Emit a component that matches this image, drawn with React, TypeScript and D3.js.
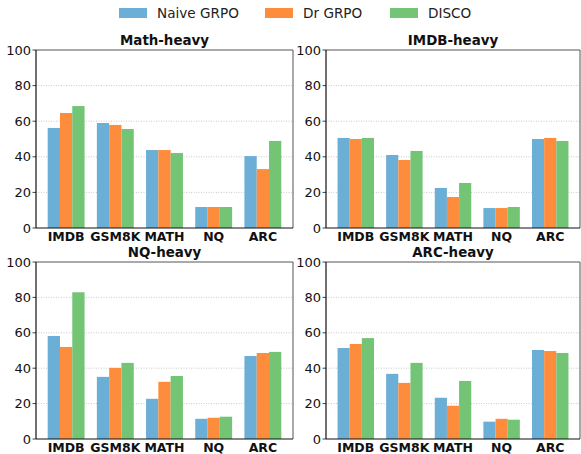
import React, { useEffect, useRef } from 'react';
import * as d3 from 'd3';

// categories / series
const categories = ['IMDB', 'GSM8K', 'MATH', 'NQ', 'ARC'];
const methods = ['Naive GRPO', 'Dr GRPO', 'DISCO'];
const colors = ['#6baed6', '#fd8d3c', '#74c476'];
const yTicks = [0, 20, 40, 60, 80, 100];

// values, one array per method per panel
const mathNaive = [56.2, 59.0, 43.8, 11.8, 40.4];
const mathDr = [64.6, 57.9, 43.8, 11.8, 33.1];
const mathDisco = [68.5, 55.6, 42.1, 11.8, 48.9];

const imdbNaive = [50.6, 41.0, 22.5, 11.2, 50.0];
const imdbDr = [50.0, 38.2, 17.4, 11.2, 50.6];
const imdbDisco = [50.6, 43.3, 25.3, 11.8, 48.9];

const nqNaive = [58.2, 35.1, 22.7, 11.4, 46.9];
const nqDr = [52.0, 40.2, 32.3, 12.0, 48.6];
const nqDisco = [82.9, 43.0, 35.6, 12.6, 49.2];

const arcNaive = [51.4, 36.8, 23.3, 9.8, 50.3];
const arcDr = [53.7, 31.7, 18.8, 11.4, 49.7];
const arcDisco = [57.0, 43.0, 32.8, 10.9, 48.6];

const panels = [
    { title: 'Math-heavy', series: [mathNaive, mathDr, mathDisco], x0: 36, x1: 293, y0: 50, y1: 228 },
    { title: 'IMDB-heavy', series: [imdbNaive, imdbDr, imdbDisco], x0: 326, x1: 580, y0: 50, y1: 228 },
    { title: 'NQ-heavy', series: [nqNaive, nqDr, nqDisco], x0: 36, x1: 293, y0: 262, y1: 439 },
    { title: 'ARC-heavy', series: [arcNaive, arcDr, arcDisco], x0: 326, x1: 580, y0: 262, y1: 439 },
];

const W = 581;
const H = 454;
const FONT = 'DejaVu Sans, sans-serif';
const barW = 0.25;

const App = () => {
    const svgRef = useRef<SVGSVGElement>(null);

    useEffect(() => {
        if (!svgRef.current) return;
        const svg = d3.select(svgRef.current);
        svg.selectAll('*').remove();

        const half = (barW * methods.length) / 2;
        const span = categories.length - 1 + 2 * half;
        const margin = span * 0.05;

        panels.forEach(p => {
            const x = d3.scaleLinear()
                .domain([-half - margin, categories.length - 1 + half + margin])
                .range([p.x0, p.x1]);
            const y = d3.scaleLinear().domain([0, 100]).range([p.y1, p.y0]);
            const g = svg.append('g');

            // grid
            g.selectAll('line.grid')
                .data(yTicks.filter(t => t > 0 && t < 100))
                .enter()
                .append('line')
                .attr('x1', p.x0)
                .attr('x2', p.x1)
                .attr('y1', d => y(d))
                .attr('y2', d => y(d))
                .attr('stroke', '#bdbdbd')
                .attr('stroke-width', 0.8)
                .attr('stroke-dasharray', '1,1.5');

            // bars
            p.series.forEach((vals, si) => {
                g.selectAll(`rect.s${si}`)
                    .data(vals)
                    .enter()
                    .append('rect')
                    .attr('x', (d, i) => x(i - half + si * barW))
                    .attr('width', x(barW) - x(0))
                    .attr('y', d => y(d))
                    .attr('height', d => y(0) - y(d))
                    .attr('fill', colors[si]);
            });

            // spines
            g.append('line').attr('x1', p.x0).attr('x2', p.x1).attr('y1', p.y0).attr('y2', p.y0)
                .attr('stroke', '#555').attr('stroke-width', 1);
            g.append('line').attr('x1', p.x1).attr('x2', p.x1).attr('y1', p.y0).attr('y2', p.y1)
                .attr('stroke', '#555').attr('stroke-width', 1);
            g.append('line').attr('x1', p.x0).attr('x2', p.x0).attr('y1', p.y0).attr('y2', p.y1)
                .attr('stroke', '#111').attr('stroke-width', 1.2);
            g.append('line').attr('x1', p.x0).attr('x2', p.x1).attr('y1', p.y1).attr('y2', p.y1)
                .attr('stroke', '#111').attr('stroke-width', 1.2);

            // y ticks
            const yt = g.selectAll('g.yt').data(yTicks).enter().append('g')
                .attr('transform', d => `translate(${p.x0},${y(d)})`);
            yt.append('line').attr('x1', -3.5).attr('x2', 0).attr('stroke', '#111').attr('stroke-width', 0.8);
            yt.append('text')
                .attr('x', -5)
                .attr('dy', '0.36em')
                .attr('text-anchor', 'end')
                .attr('font-family', FONT)
                .attr('font-size', '13px')
                .attr('fill', '#111')
                .text(d => d);

            // x labels
            g.selectAll('text.xl').data(categories).enter().append('text')
                .attr('x', (d, i) => x(i))
                .attr('y', p.y1 + 13)
                .attr('text-anchor', 'middle')
                .attr('font-family', FONT)
                .attr('font-size', '12.5px')
                .attr('font-weight', 'bold')
                .attr('fill', '#111')
                .text(d => d);

            // title
            g.append('text')
                .attr('x', (p.x0 + p.x1) / 2)
                .attr('y', p.y0 - 5)
                .attr('text-anchor', 'middle')
                .attr('font-family', FONT)
                .attr('font-size', '13.4px')
                .attr('font-weight', 'bold')
                .attr('fill', '#111')
                .text(p.title);
        });

        // legend
        const legendX = [119, 265, 390];
        const lg = svg.append('g');
        methods.forEach((m, i) => {
            lg.append('rect')
                .attr('x', legendX[i])
                .attr('y', 8)
                .attr('width', 28)
                .attr('height', 10)
                .attr('fill', colors[i]);
            lg.append('text')
                .attr('x', legendX[i] + 38)
                .attr('y', 18)
                .attr('font-family', FONT)
                .attr('font-size', '13.6px')
                .attr('fill', '#222')
                .text(m);
        });
    }, []);

    return (
        <div style={{ position: 'absolute', left: 0, top: 0 }}>
            <svg ref={svgRef} width={W} height={H} viewBox={`0 0 ${W} ${H}`} style={{ display: 'block' }} />
        </div>
    );
};

export default App;
